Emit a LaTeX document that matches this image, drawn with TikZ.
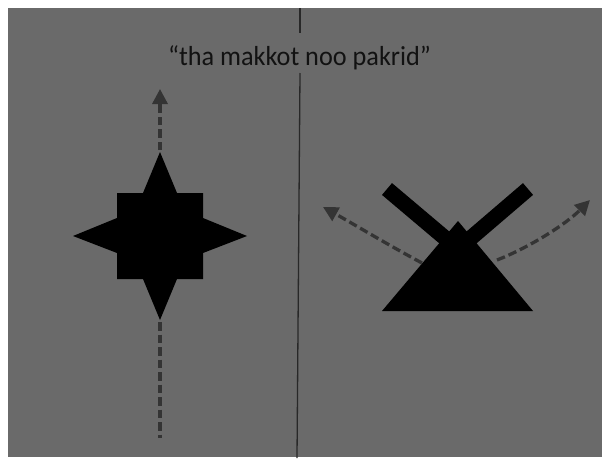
\documentclass[tikz,border=0pt]{standalone}
\usepackage{fontspec}
\setmainfont{Carlito}
\usetikzlibrary{arrows.meta}
\definecolor{bg}{RGB}{106,106,106}
\definecolor{dashc}{RGB}{52,52,52}
\definecolor{divc}{RGB}{40,40,40}
\definecolor{txtc}{RGB}{18,18,18}
\tikzset{
  dashline/.style={draw=dashc, line width=3.3pt, dash pattern=on 8.5pt off 4pt},
  tipped/.style={-{Triangle[length=15pt,width=15pt]}},
  divider/.style={draw=divc, line width=1.3pt},
  shapefill/.style={fill=black, draw=none},
  bar/.style={draw=black, line width=15.5pt, line cap=butt},
}
\begin{document}
\begin{tikzpicture}[x=1pt,y=-1pt]
\useasboundingbox (0,0) rectangle (602,458);
\fill[white] (0,0) rectangle (602,458);
\fill[bg] (8,8) rectangle (602,457);
% title
\node[anchor=base, text=txtc, font=\fontsize{27.5}{30}\selectfont, inner sep=0pt, xscale=0.955] (title) at (299.5,65) {“tha makkot noo pakrid”};
% divider
\coordinate (dtop) at (300,8);
\coordinate (dgapA) at (300,33);
\coordinate (dgapB) at (300,73);
\coordinate (dbot) at (297,458);
\draw[divider] (dtop) -- (dgapA);
\draw[divider] (dgapB) -- (dbot);
% star
\fill[shapefill] (160,152) -- (177,193) -- (203,193) -- (203,218) -- (247,236) -- (203,253) -- (203,279) -- (177,279) -- (160,320) -- (143,279) -- (117,279) -- (117,253) -- (73,236) -- (117,218) -- (117,193) -- (143,193) -- cycle;
\coordinate (startop) at (160,150);
\coordinate (upend) at (160,89);
\coordinate (starbot) at (160,322);
\coordinate (lowend) at (160,438);
\draw[dashline, tipped] (startop) -- (upend);
\draw[dashline] (starbot) -- (lowend);
% X bars and triangle
\coordinate (lbar) at (387,189);
\coordinate (rbar) at (528,189);
\coordinate (xmid) at (458,249);
\draw[bar] (lbar) -- (xmid);
\draw[bar] (rbar) -- (xmid);
\fill[shapefill] (458,221) -- (533,311) -- (382,311) -- cycle;
\coordinate (la) at (422,263);
\coordinate (lb) at (323,207);
\coordinate (ra) at (497,260);
\coordinate (rb) at (590,200);
\draw[dashline, tipped] (la) .. controls (390,246) and (350,222) .. (lb);
\draw[dashline, tipped] (ra) .. controls (528,248) and (565,225) .. (rb);
\end{tikzpicture}
\end{document}
